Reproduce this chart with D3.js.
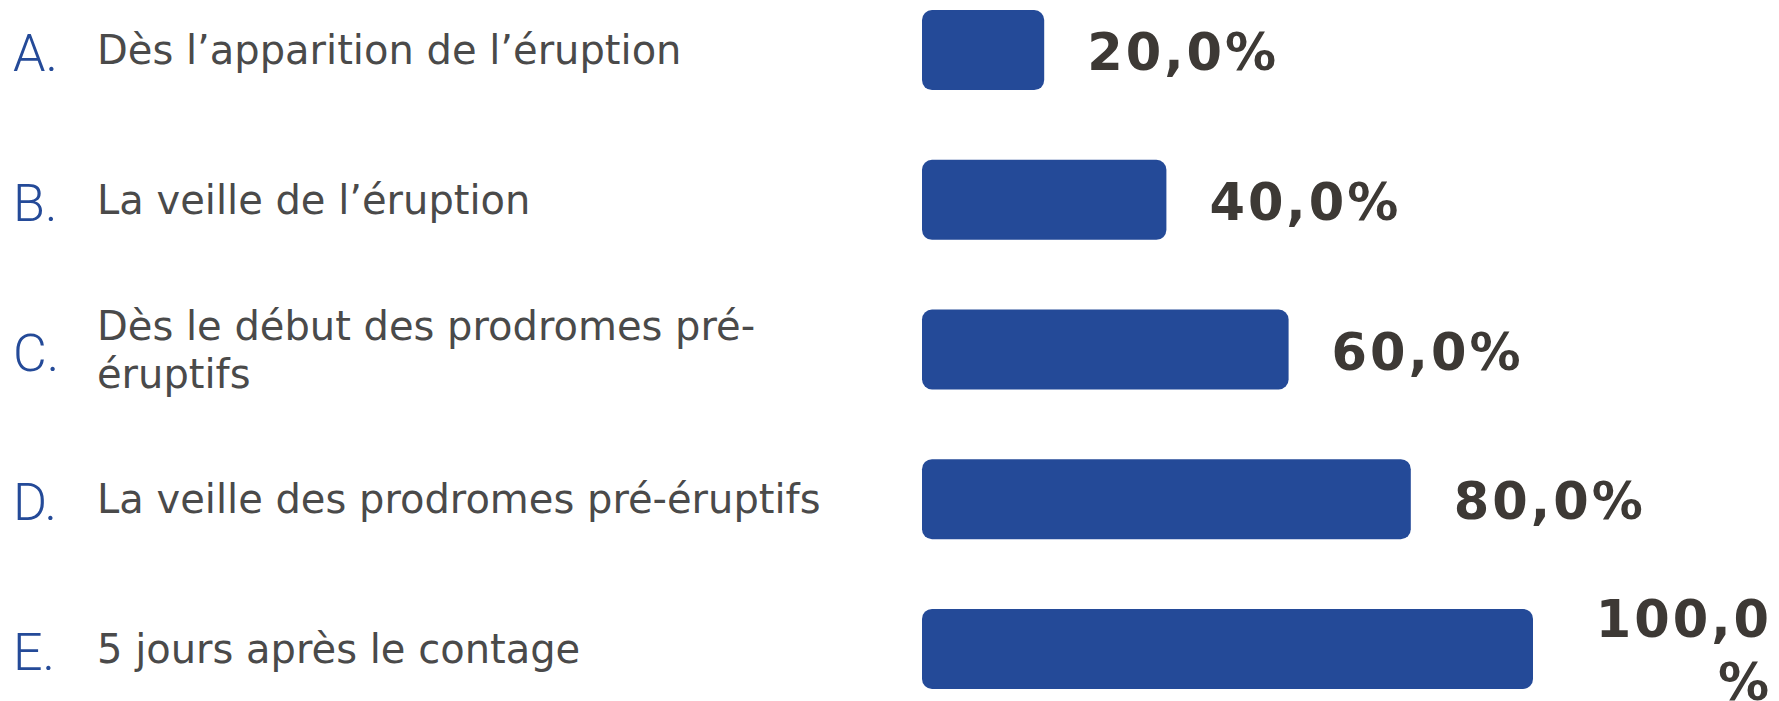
<!DOCTYPE html>
<html>
<head>
<meta charset="utf-8">
<script src="https://cdn.jsdelivr.net/npm/d3@7"></script>
<style>
  html, body { margin: 0; padding: 0; background: #ffffff; }
  svg { display: block; }
</style>
</head>
<body>
<svg id="chart"></svg>
<script>
// Answer options and the share of responses for each one
const letters = ["A.", "B.", "C.", "D.", "E."];
const answers = [
  "Dès l\u2019apparition de l\u2019éruption",
  "La veille de l\u2019éruption",
  "Dès le début des prodromes pré-éruptifs",
  "La veille des prodromes pré-éruptifs",
  "5 jours après le contage"
];
const shares = [0.20, 0.40, 0.60, 0.80, 1.00];

const W = 1779, H = 701;
const svg = d3.select("#chart").attr("width", W).attr("height", H);

const y = d3.scaleBand().domain(letters).range([10, 689]).paddingInner(0.465).paddingOuter(0);
const x = d3.scaleLinear().domain([0, 1]).range([922, 1533]);

const blue = "#244a98";
const textGray = "#4a4a4a";
const valueColor = "#3d3935";
const labelFont = "'DejaVu Sans', Verdana, sans-serif";
const valueFont = "'DejaVu Sans', Verdana, sans-serif";
const fmt = v => d3.format(".1f")(v * 100).replace(".", ",") + "%";

// Split text after spaces and hyphens, then fill lines up to maxWidth
function wrapLines(text, maxWidth, measure) {
  const words = text.split(" ");
  const toks = [];
  words.forEach((w, i) => {
    const parts = w.split(/(?<=-)/);
    parts.forEach((p, j) => toks.push({ t: p, sp: j === parts.length - 1 && i < words.length - 1 }));
  });
  const lines = [];
  let cur = "";
  toks.forEach(tk => {
    const cand = cur + tk.t;
    if (cur.trim() !== "" && measure(cand) > maxWidth) {
      lines.push(cur.trimEnd());
      cur = tk.t;
    } else {
      cur = cand;
    }
    if (tk.sp) cur += " ";
  });
  if (cur.trim() !== "") lines.push(cur.trimEnd());
  return lines;
}

const probe = svg.append("text").attr("visibility", "hidden");
function measureWith(font, size, weight, spacing) {
  return s => {
    probe.attr("font-family", font).attr("font-size", size).attr("font-weight", weight)
      .attr("letter-spacing", spacing || 0).text(s);
    return probe.node().getComputedTextLength();
  };
}

const rows = letters.map((l, i) => ({ letter: l, answer: answers[i], share: shares[i] }));

const g = svg.append("g");

// Bars
g.selectAll("rect.bar").data(rows).join("rect")
  .attr("class", "bar")
  .attr("x", x(0))
  .attr("y", d => y(d.letter))
  .attr("width", d => x(d.share) - x(0))
  .attr("height", y.bandwidth())
  .attr("rx", 10).attr("ry", 10)
  .attr("fill", blue);

// Option letters
g.selectAll("text.letter").data(rows).join("text")
  .attr("class", "letter")
  .attr("x", 13)
  .attr("y", d => y(d.letter) + y.bandwidth() / 2 + 21)
  .attr("font-family", "Roboto, 'Liberation Sans', sans-serif")
  .attr("font-weight", 300)
  .attr("font-size", 52)
  .attr("fill", blue)
  .text(d => d.letter);

// Answer texts, wrapped
const labelSize = 40, labelLH = 48;
const measureLabel = measureWith(labelFont, labelSize, 400);
g.selectAll("text.answer").data(rows).join("text")
  .attr("class", "answer")
  .attr("font-family", labelFont)
  .attr("font-size", labelSize)
  .attr("fill", textGray)
  .each(function (d) {
    const lines = wrapLines(d.answer, 745, measureLabel);
    const cy = y(d.letter) + y.bandwidth() / 2;
    const first = cy - (lines.length - 1) * labelLH / 2 + 14;
    d3.select(this).selectAll("tspan").data(lines).join("tspan")
      .attr("x", 97)
      .attr("y", (t, k) => first + k * labelLH)
      .text(t => t);
  });

// Value labels: placed right of the bar, broken before "%" when space runs out
const valSize = 51, valLH = 63, valSpacing = 3, rightEdge = 1772;
const measureVal = measureWith(valueFont, valSize, 700, valSpacing);
g.selectAll("text.value").data(rows).join("text")
  .attr("class", "value")
  .attr("font-family", valueFont)
  .attr("font-weight", 700)
  .attr("font-size", valSize)
  .attr("letter-spacing", valSpacing)
  .attr("fill", valueColor)
  .each(function (d) {
    const label = fmt(d.share);
    const x0 = x(d.share) + 43;
    const cy = y(d.letter) + y.bandwidth() / 2;
    let lines = [label], anchor = "start", lx = x0;
    if (x0 + measureVal(label) > rightEdge) {
      lines = [label.slice(0, -1), "%"];
      anchor = "end";
      lx = rightEdge;
    }
    const first = cy - (lines.length - 1) * valLH / 2 + 20;
    d3.select(this).attr("text-anchor", anchor)
      .selectAll("tspan").data(lines).join("tspan")
      .attr("x", lx)
      .attr("y", (t, k) => first + k * valLH)
      .text(t => t);
  });

probe.remove();
</script>
</body>
</html>
